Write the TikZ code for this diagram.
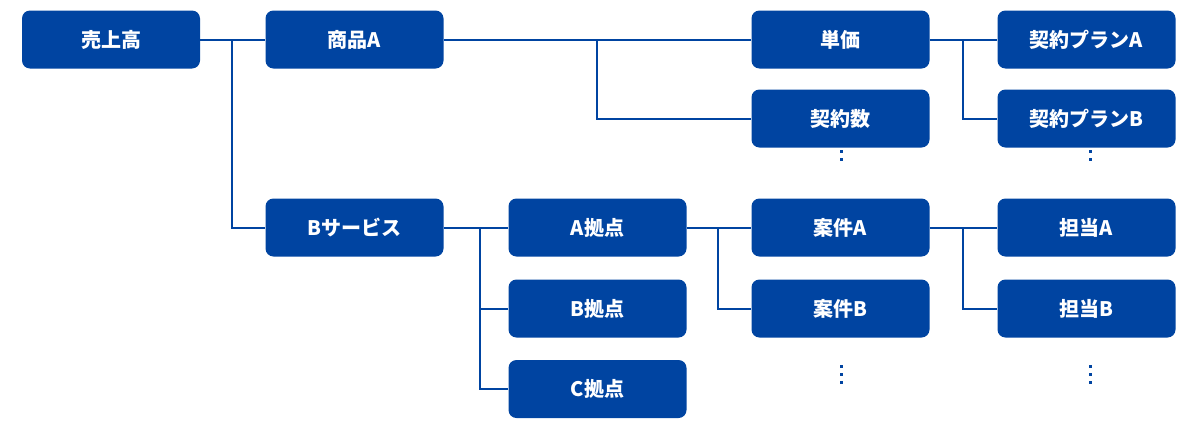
\documentclass[tikz,border=0pt]{standalone}
\usepackage{fontspec}
\usepackage{tikz}
\newfontfamily\jpfont{Noto Sans CJK JP}
\definecolor{boxblue}{HTML}{0044A1}

\tikzset{
	item/.style={shape=rectangle,rounded corners=8pt,fill=boxblue,text=white,
		minimum width=178pt,minimum height=58pt,inner sep=0pt,
		font=\jpfont\bfseries\fontsize{20pt}{22pt}\selectfont},
	wire/.style={draw=boxblue,line width=2pt},
	dot/.style={fill=boxblue}
}

\begin{document}
\begin{tikzpicture}[x=1pt,y=-1pt]
	\useasboundingbox (0,0) rectangle (1200,429);

	\node[item] (uri)     at (111, 39.5)    {売上高};
	\node[item] (shohin)  at (354.5, 39.5)  {商品A};
	\node[item] (tanka)   at (840.5, 39.5)  {単価};
	\node[item] (planA)   at (1086.5, 39.5) {契約プランA};
	\node[item] (keiyaku) at (840.5, 118.5) {契約数};
	\node[item] (planB)   at (1086.5, 118.5){契約プランB};
	\node[item] (bserv)   at (354.5, 227.5) {Bサービス};
	\node[item] (kyotenA) at (597.5, 227.5) {A拠点};
	\node[item] (kyotenB) at (597.5, 308.5) {B拠点};
	\node[item] (kyotenC) at (597.5, 389)   {C拠点};
	\node[item] (ankenA)  at (840.5, 227.5) {案件A};
	\node[item] (ankenB)  at (840.5, 308.5) {案件B};
	\node[item] (tantoA)  at (1086.5, 227.5){担当A};
	\node[item] (tantoB)  at (1086.5, 308.5){担当B};

	\coordinate (j1) at (232, 39.5);
	\coordinate (j2) at (597, 39.5);
	\coordinate (j3) at (963, 39.5);
	\coordinate (j4) at (480, 227.5);
	\coordinate (j5) at (718, 227.5);
	\coordinate (j6) at (963, 227.5);

	\draw[wire] (uri) -- (shohin);
	\draw[wire] (j1) |- (bserv);
	\draw[wire] (shohin) -- (tanka);
	\draw[wire] (j2) |- (keiyaku);
	\draw[wire] (tanka) -- (planA);
	\draw[wire] (j3) |- (planB);
	\draw[wire] (bserv) -- (kyotenA);
	\draw[wire] (j4) |- (kyotenB);
	\draw[wire] (j4) |- (kyotenC);
	\draw[wire] (kyotenA) -- (ankenA);
	\draw[wire] (j5) |- (ankenB);
	\draw[wire] (ankenA) -- (tantoA);
	\draw[wire] (j6) |- (tantoB);

	% continuation dots
	\foreach \y in {150, 158}{
		\fill[dot] (840,\y) rectangle +(3,3);
		\fill[dot] (1089,\y) rectangle +(3,3);
	}
	\foreach \y in {365, 373, 381}{
		\fill[dot] (840,\y) rectangle +(3,3);
		\fill[dot] (1089,\y) rectangle +(3,3);
	}
\end{tikzpicture}
\end{document}
